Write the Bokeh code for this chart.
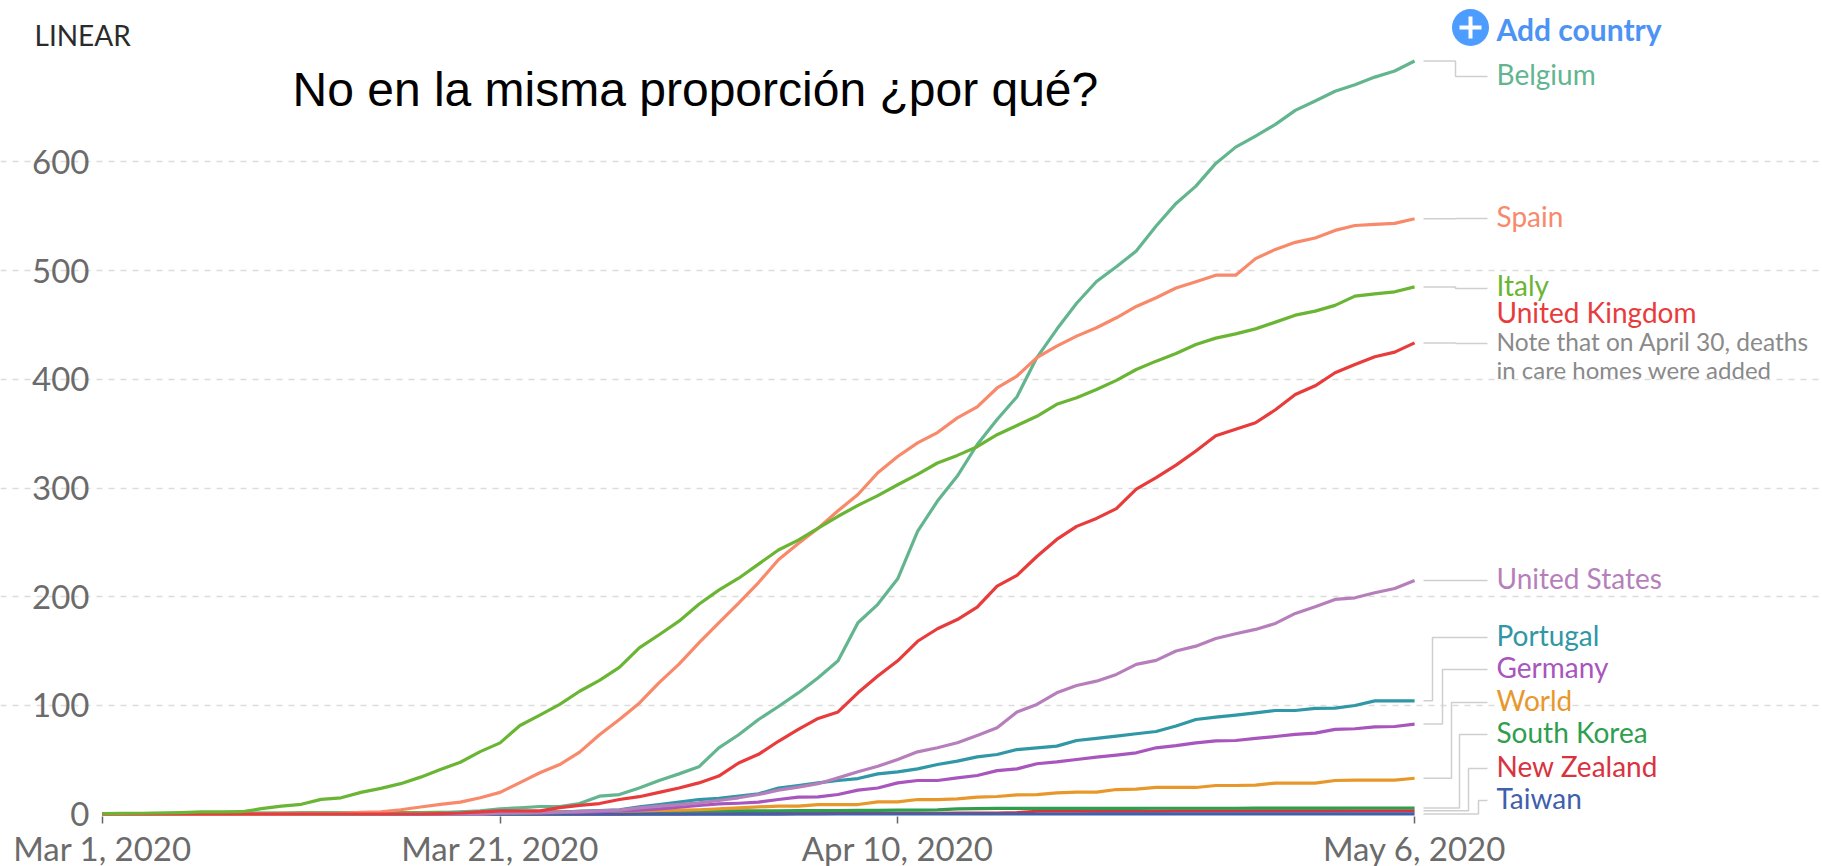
import pandas as pd
from bokeh.embed import file_html
from bokeh.resources import INLINE
from bokeh.plotting import figure
from bokeh.models import Range1d, FixedTicker, Label

start = pd.Timestamp("2020-03-01")
dates = pd.date_range("2020-03-01", "2020-05-06")

belgium = [0]*13 + [.2,.3,.5,.8,1,2,3,
    4.8,5.8,7,7,9.7,16.5,18,24,31,37,
    43.5,61,73,87,99,111.5,125.4,141,176,193,
    216.5,260,288,311,340,363,384,420,446,470,
    490,503.5,518,541,561.8,577.7,598.6,613.6,623.7,634.5,
    647.4,656,665,671,678,683.6,692.8]
spain = [0]*10 + [.1,.1,.5,1.5,2,4,6.5,9,11,15,
    20,29,38,45.6,57,73,87,102,121,138,
    157.6,176,194,213,234,249,263,279,294,314,
    329,341.5,351,364.5,374.7,392,403,420,430.5,439.7,
    447.4,456.6,467,475,484,489.7,495.8,495.8,511,519.5,
    526,530,537,541.5,542.5,543.4,547.7]
italy = [.5,.6,.8,1,1.4,2,2,2.2,5,7.4,
    9,13.5,15,20,23.7,28,34,41,47.7,57.5,
    65.5,81.5,91,101,113,123,135,153,165,177.5,
    193,206,217,230,243,252,263,274,284,293,
    303,312.5,323,330,338,349,357.5,366,377,383,
    390.6,399,409,416.7,423.7,432,437.9,441.8,446.4,452.6,
    459,462.7,468,476.5,478.6,480.5,485]
uk = [.1]*17 + [.5,1,2,
    3,3,3,6,8,9.7,13.4,16,20,24,
    28.7,35,47,55,67,78,88,94,111.6,127,
    141,159,170.5,179,190.4,209.8,219.6,237,252.7,264.7,
    272,281,299,309.6,321,334,348,354,360,372,
    386,394,406,413.6,420.7,425,433.5]
us = [0]*20 + [.8,1,1.3,1.7,2.2,2.9,3.6,5.8,7.3,8.8,
    10.3,12.5,15,18,22,24.8,28,33.3,38.9,44,
    50.2,57.3,61,65.6,72.3,79.4,94,100.9,111.6,118.3,
    122.3,128.5,137.7,141.4,150,154.5,161.6,165.9,169.9,175.4,
    184.6,190.7,197.5,199,203.6,207.6,215]
portugal = [0]*18 + [.1,.2,
    .3,.5,1,1.4,2.7,3.3,4,6.6,8.8,11,
    13.4,14.6,16.5,18.6,24,26.3,28.7,30.9,32.7,37,
    38.9,41.6,45.6,48.7,52.7,54.8,59.4,61,62.5,67.7,
    69.6,71.7,73.9,76,81,87,89.2,91,93.2,95.3,
    95.3,97.2,97.5,99.9,104.2,104.2,104.2]
germany = [0]*20 + [.8,1,1.2,1.5,1.9,2.3,2.9,3.6,4.8,6.3,
    7.9,9.4,10,11,13.4,15.6,15.9,18,22,24,
    28.7,30.9,30.9,33.4,35.5,40,41.6,46.3,48,50.2,
    52.4,54.2,56.4,61,63,65.6,67.4,67.7,69.6,71.4,
    73.3,74.5,77.9,78.5,80.3,80.6,82.8]
world = [.4,.4,.4,.4,.4,.5,.5,.5,.5,.6,
    .6,.6,.7,.7,.8,.9,1,1,1.2,1.4,
    1.5,1.7,1.9,2,2.2,2.4,2.7,3,3.3,3.6,
    4,4.8,5.8,6.6,7.3,7.3,8.8,8.8,8.8,11.2,
    11.2,13.4,13.4,14,15.6,16.2,17.7,18,19.6,20.2,
    20.2,22.6,23,24.5,24.5,24.5,26.3,26.3,26.6,28.5,
    28.5,28.5,30.9,31.2,31.2,31.2,33]
south_korea = [.3,.4,.5,.6,.6,.7,.8,.9,1,1,
    1.1,1.1,1.2,1.2,1.3,1.3,1.4,1.5,1.6,1.8,
    1.9,2,2,2.1,2.2,2.3,2.4,2.5,2.6,2.7,
    2.8,2.9,3,3,3.1,3.2,3.2,3.3,3.4,3.5,
    3.6,3.7,3.8,4.8,5,5.2,5.2,5.2,5.3,5.3,
    5.3,5.3,5.3,5.4,5.4,5.4,5.4,5.4,5.5,5.5,
    5.5,5.5,5.5,5.6,5.6,5.6,5.6]
new_zealand = [0]*27 + [.2,.2,.2,.3,.3,.4,.4,.4,.5,.5,.6,.6,.7,.7,.8,.8,.9,.9,1,1.4,
    2.6,2.7,2.7,2.8,2.8,2.8,2.8,2.9,2.9,2.9,2.9,2.9,3,3,3,3,3,3,3,3,3]
taiwan = [0]*20 + [.05]*15 + [.1]*15 + [.2]*17

y_ticks = [0, 100, 200, 300, 400, 500, 600]
x_tick_dates = ["2020-03-01", "2020-03-21", "2020-04-10", "2020-05-06"]
x_tick_labels = ["Mar 1, 2020", "Mar 21, 2020", "Apr 10, 2020", "May 6, 2020"]

# pixel geometry of the plot; the frame fills the whole canvas
PX_LEFT, PX_DAY = 102.0, 19.88
PX_ZERO, PX_UNIT = 813.6, 1.087
W, H = 1822, 866
AXIS_Y = 816.0
MS_DAY = 86400000.0
t0 = start.timestamp() * 1000

def X(px):
    return t0 + (px - PX_LEFT) / PX_DAY * MS_DAY

def Y(py):
    return (PX_ZERO - py) / PX_UNIT

p = figure(width=W, height=H, x_axis_type="datetime", output_backend="svg",
           toolbar_location=None, min_border=0,
           x_range=Range1d(X(0), X(W)), y_range=Range1d(Y(H), Y(0)))
p.outline_line_color = None
p.background_fill_color = "white"
p.xgrid.visible = False

tick_ms = [pd.Timestamp(d).timestamp() * 1000 for d in x_tick_dates]
p.xaxis.fixed_location = Y(AXIS_Y)
p.xaxis.ticker = FixedTicker(ticks=tick_ms)
p.xaxis.major_label_overrides = dict(zip(tick_ms, x_tick_labels))
p.xaxis.axis_line_color = None
p.xaxis.minor_tick_line_color = None
p.xaxis.major_tick_in = 0
p.xaxis.major_tick_out = 7
p.xaxis.major_tick_line_color = "#666666"
p.xaxis.major_tick_line_width = 1.5
p.xaxis.major_label_text_font = "Lato"
p.xaxis.major_label_text_font_size = "33px"
p.xaxis.major_label_text_color = "#6b6b6b"
p.xaxis.major_label_standoff = 4

p.yaxis.fixed_location = X(PX_LEFT)
p.yaxis.ticker = FixedTicker(ticks=y_ticks)
p.yaxis.axis_line_color = None
p.yaxis.major_tick_line_color = None
p.yaxis.minor_tick_line_color = None
p.yaxis.major_label_text_font = "Lato"
p.yaxis.major_label_text_font_size = "33px"
p.yaxis.major_label_text_color = "#6b6b6b"
p.yaxis.major_label_standoff = 7

p.ygrid.ticker = FixedTicker(ticks=y_ticks[1:])
p.ygrid.bounds = (X(PX_LEFT), tick_ms[-1])
p.ygrid.grid_line_color = "#dcdcdc"
p.ygrid.grid_line_width = 1.5
p.ygrid.grid_line_dash = "6 6"

series = [
    ("New Zealand", new_zealand, "#d8333f", 767, 1468),
    ("South Korea", south_korea, "#2f9e4f", 733, 1459),
    ("Taiwan", taiwan, "#3f60ad", 799, 1478),
    ("World", world, "#e8982b", 701, 1451),
    ("Germany", germany, "#a855bd", 668, 1442),
    ("Portugal", portugal, "#2f97a5", 636, 1432),
    ("United States", us, "#b67fbb", 579, 1455),
    ("Belgium", belgium, "#62b58f", 75, 1455),
    ("Spain", spain, "#f8896a", 217, 1455),
    ("United Kingdom", uk, "#e83b3b", 315, 1455),
    ("Italy", italy, "#6ab534", 287, 1455),
]

# line-end leaders, then the lines, then the labels
for name, vals, col, ly, elbow in series:
    leader_y = (343 if name == "United Kingdom" else ly + 1)
    v_end = vals[-1]
    p.line([X(1423), X(elbow), X(elbow), X(1487)],
           [v_end, v_end, Y(leader_y), Y(leader_y)],
           line_color="#cfcfcf", line_width=1.5)

for name, vals, col, ly, elbow in series:
    p.line(dates, vals, line_color=col, line_width=3.2, line_join="round")

def label(txt, px, py, color, size, font="Lato", style="normal", align="left"):
    p.add_layout(Label(x=X(px), y=Y(py), text=txt, text_color=color,
                       text_font=font, text_font_size=size, text_font_style=style,
                       text_align=align, text_baseline="middle"))

LABEL_NUDGE = {"Italy": 1, "United Kingdom": 2}
for name, vals, col, ly, elbow in series:
    label(name, 1496, ly - 1.5 - LABEL_NUDGE.get(name, 0), col, "28px")

label("Note that on April 30, deaths", 1496, 341, "#8a8a8a", "24.5px")
label("in care homes were added", 1496, 369, "#8a8a8a", "24px")
label("LINEAR", 34, 34, "#2b2b2b", "28px")
label("No en la misma proporción ¿por qué?", 292, 88.5, "#000000", "48px", font="Liberation Sans")
label("Add country", 1496, 28, "#4c93f5", "30px", style="bold")

p.scatter([X(1470)], [Y(27)], marker="circle", size=37, fill_color="#4c9dff", line_color=None)
p.scatter([X(1470)], [Y(27)], marker="cross", size=22, line_color="white", line_width=4)

open("out.html", "w").write(file_html(p, INLINE))
